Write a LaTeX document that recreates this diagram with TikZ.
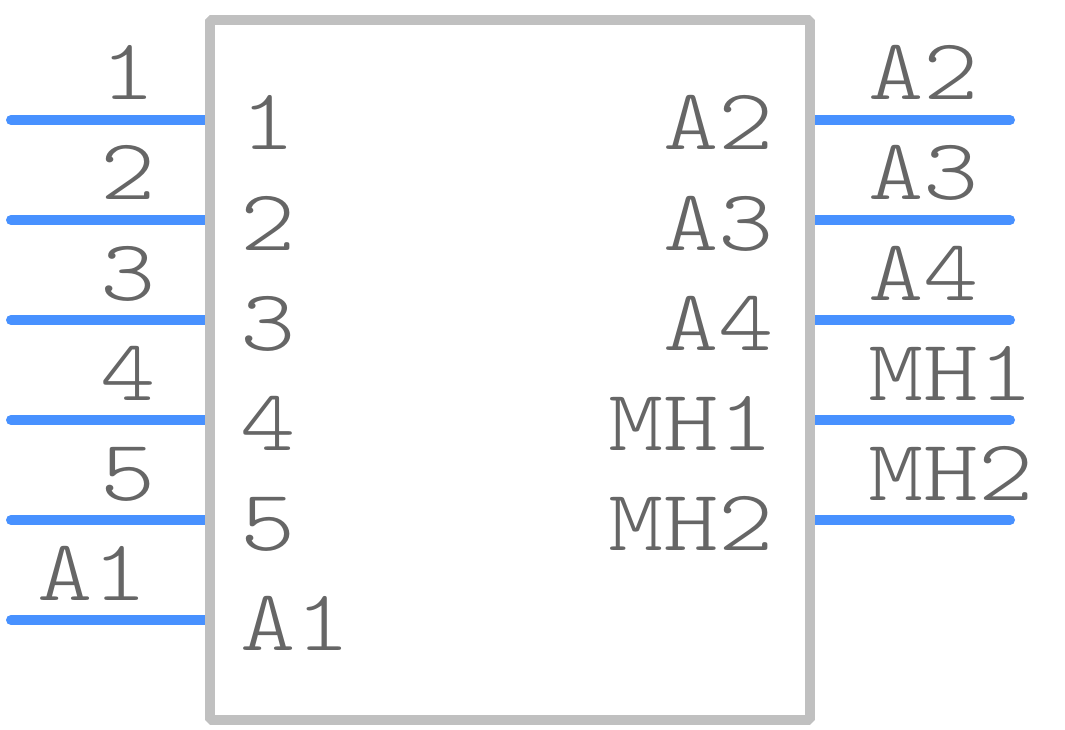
\documentclass[tikz,border=0pt]{standalone}
\usepackage{fontspec}
\newfontfamily\pinfont[FakeStretch=1.21]{Latin Modern Mono Light}
\usetikzlibrary{positioning}
\definecolor{pinblue}{HTML}{4891FF}
\definecolor{bodygray}{HTML}{C0C0C0}
\definecolor{textgray}{HTML}{666666}
\tikzset{
  pinline/.style={draw=pinblue,line width=10pt,line cap=round},
  pinlabel/.style={inner sep=0pt,text=textgray,font=\pinfont\fontsize{87}{87}\selectfont},
}
\begin{document}
\begin{tikzpicture}[x=1pt,y=-1pt]
\useasboundingbox (0,0) rectangle (1065,730);

% left side
\foreach \i / \element / \y / \x in {1/1/120/156,2/2/220/156,3/3/320/156,4/4/420/156,5/5/520/156,6/A1/620/148} {
  \coordinate (lo\i) at (11,\y);
  \coordinate (li\i) at (205,\y);
  \draw[pinline] (lo\i) -- (li\i);
  \node[pinlabel,anchor=base east] (lt\i) at (\x,\y-20) {\element};
  \node[pinlabel,anchor=base west] (ln\i) at (240,\y+30) {\element};
}

% right side
\foreach \i / \element / \y in {1/A2/120,2/A3/220,3/A4/320,4/MH1/420,5/MH2/520} {
  \coordinate (ro\i) at (1010,\y);
  \coordinate (ri\i) at (815,\y);
  \draw[pinline] (ri\i) -- (ro\i);
  \node[pinlabel,anchor=base west] (rt\i) at (868,\y-20) {\element};
  \node[pinlabel,anchor=base east] (rn\i) at (774,\y+30) {\element};
}

\draw[draw=bodygray,line width=10pt,line join=bevel] (210,20) rectangle (810,720);
\end{tikzpicture}
\end{document}
